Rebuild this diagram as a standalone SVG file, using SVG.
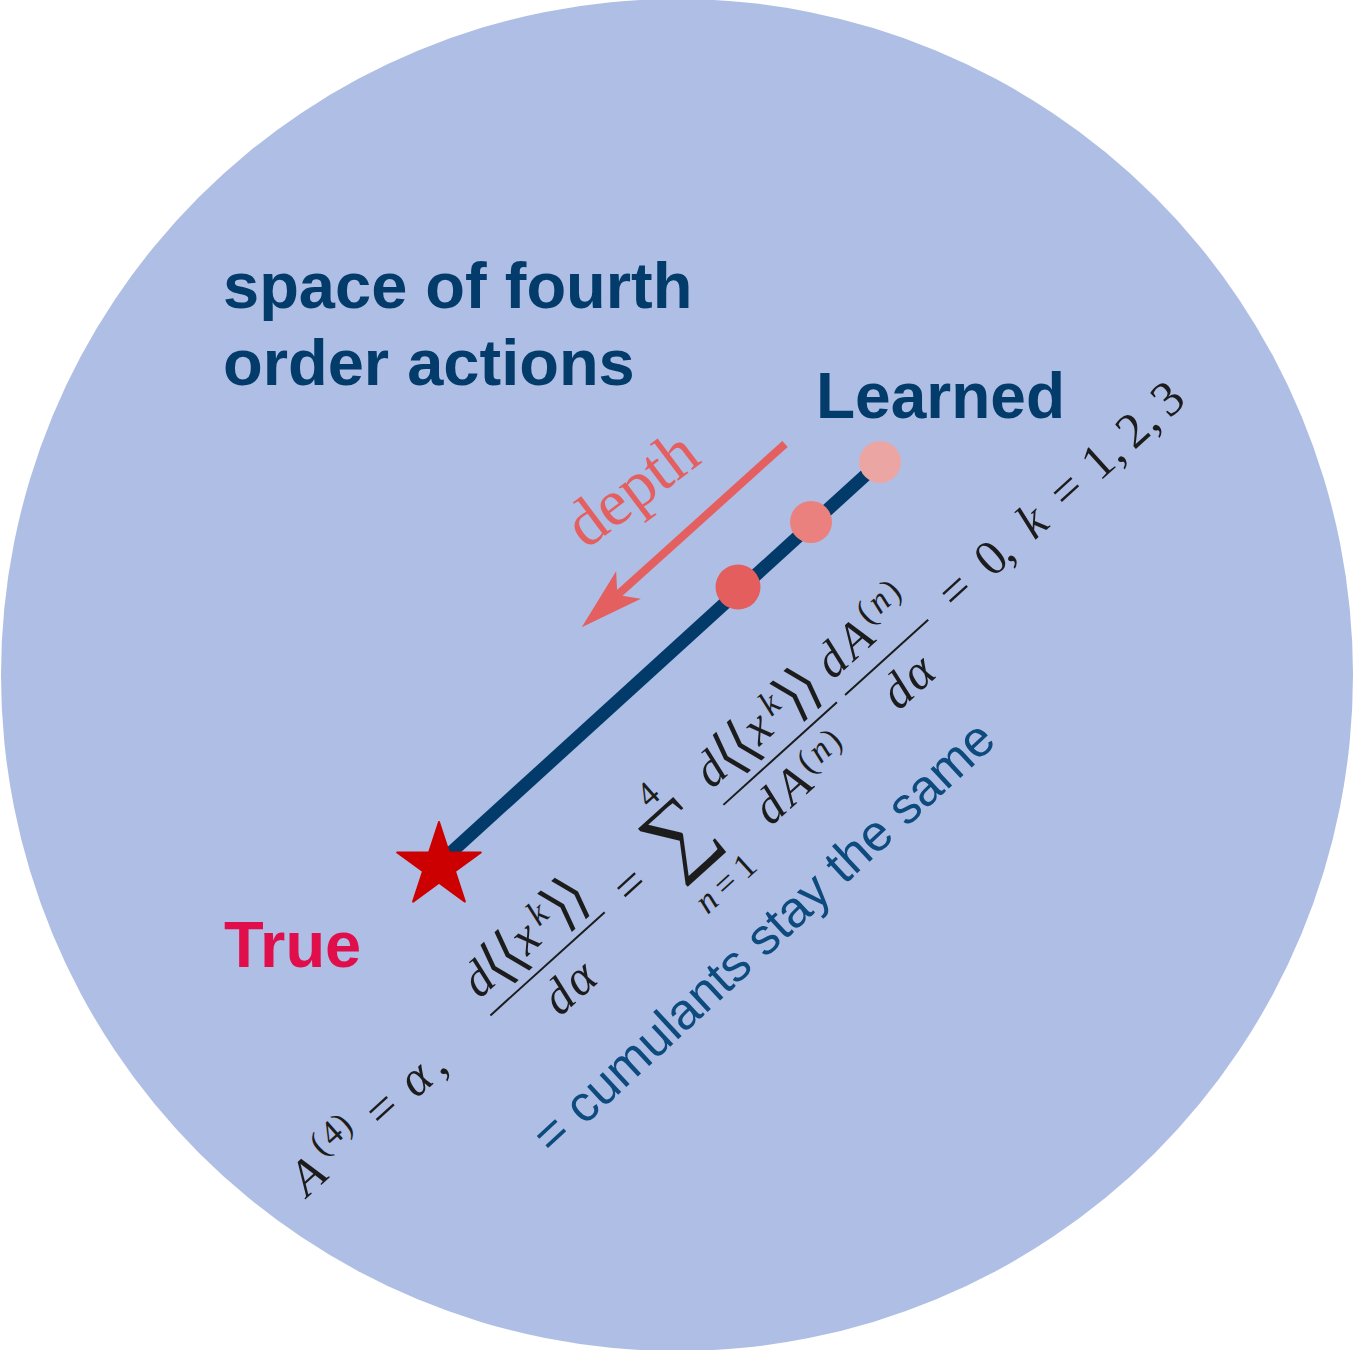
<svg xmlns="http://www.w3.org/2000/svg" width="1354" height="1350" viewBox="0 0 1354 1350">
<defs>
<style>
.lbl{font-family:"Liberation Sans",Arial,sans-serif;font-weight:bold}
.m{font-family:"Liberation Serif","DejaVu Sans",serif;fill:#1c1c1c;font-size:50px;text-anchor:middle}
.mi{font-style:italic}
.s{font-size:35px}
.br{font-size:58px}
.big{font-size:88px}
.bar{stroke:#1c1c1c;stroke-width:2}
.dot{stroke:none}
</style>
<marker id="head" markerUnits="userSpaceOnUse" viewBox="-20 -20 66 40" refX="0" refY="0" markerWidth="66" markerHeight="40" orient="auto">
<path d="M44,0 L-19,-18.5 L-4,0 L-19,18.5 Z" fill="#E45F5F"/>
</marker>
</defs>
<rect width="1354" height="1350" fill="#ffffff"/>
<circle id="space" cx="677" cy="675" r="676" fill="#AFBEE4"/>

<g id="connectors">
<line id="path" x1="445" y1="858" x2="880" y2="462" stroke="#023B6A" stroke-width="13"/>
<line id="depth-arrow" x1="785" y1="444" x2="614.4" y2="597.8" stroke="#E45F5F" stroke-width="8" marker-end="url(#head)"/>
</g>

<g id="dot-top"><circle class="dot" cx="880" cy="462" r="21" fill="#EBA6A4"/></g>
<g id="dot-mid"><circle class="dot" cx="811" cy="522" r="21" fill="#EB817F"/></g>
<g id="dot-low"><circle class="dot" cx="738" cy="587" r="22.5" fill="#E45E5E"/></g>

<g id="star">
<polygon points="439,822 448.9,852.4 480.8,852.4 455,871.2 464.9,901.6 439,882.8 413.1,901.6 423,871.2 397.2,852.4 429.1,852.4" fill="#CC0000" stroke="#CC0000" stroke-width="2" stroke-linejoin="round"/>
</g>

<g id="title">
<text class="lbl" x="223" y="308" font-size="65" fill="#033C6B">space of fourth</text>
<text class="lbl" x="223" y="385" font-size="65" fill="#033C6B">order actions</text>
</g>
<g id="learned"><text class="lbl" x="816" y="418" font-size="64" fill="#033C6B">Learned</text></g>
<g id="true"><text class="lbl" x="224" y="967" font-size="65" fill="#E00E4A">True</text></g>

<g id="depth-label"><text x="586" y="550" transform="rotate(-37 586 550)" font-family="'Liberation Serif',serif" font-size="66" fill="#E45F5F">depth</text></g>

<g id="cumulants"><text x="552" y="1156" transform="rotate(-42.8 552 1156)" font-family="'Liberation Sans',Arial,sans-serif" font-size="51" fill="#0D4A7E">= cumulants stay the same</text></g>

<g id="formula" transform="translate(385,1112) rotate(-42.1)">
<text class="m mi" x="-100" y="11.5">A</text>
<text class="m s" y="-9"><tspan x="-71">(</tspan><tspan x="-54">4</tspan><tspan x="-39">)</tspan></text>
<text class="m" x="0" y="12">=</text>
<text class="m mi" x="45" y="11.5">α</text>
<text class="m" x="71" y="11.5">,</text>

<line class="bar" x1="143" y1="-1" x2="297" y2="-1"/>
<text class="m" y="-20"><tspan class="mi" x="158">d</tspan><tspan class="br" x="181" y="-16">⟨</tspan><tspan class="br" x="200" y="-16">⟨</tspan><tspan class="mi" x="221" y="-20">x</tspan><tspan class="br" x="266" y="-16">⟩</tspan><tspan class="br" x="285" y="-16">⟩</tspan></text>
<text class="m mi s" x="246" y="-34">k</text>
<text class="m mi" y="47"><tspan x="206">d</tspan><tspan x="234">α</tspan></text>

<text class="m" x="334" y="12">=</text>
<text class="m big" x="403" y="17">∑</text>
<text class="m s" x="408" y="-48">4</text>
<text class="m s" y="70"><tspan class="mi" x="380">n</tspan><tspan x="406">=</tspan><tspan x="432">1</tspan></text>

<line class="bar" x1="457" y1="-1" x2="610" y2="-1"/>
<text class="m" y="-20"><tspan class="mi" x="471">d</tspan><tspan class="br" x="494" y="-16">⟨</tspan><tspan class="br" x="513" y="-16">⟨</tspan><tspan class="mi" x="534" y="-20">x</tspan><tspan class="br" x="579" y="-16">⟩</tspan><tspan class="br" x="598" y="-16">⟩</tspan></text>
<text class="m mi s" x="559" y="-34">k</text>
<text class="m mi" y="47"><tspan x="490">d</tspan><tspan x="522">A</tspan></text>
<text class="m s" y="34"><tspan x="547">(</tspan><tspan class="mi" x="565">n</tspan><tspan x="582">)</tspan></text>

<line class="bar" x1="621" y1="-1" x2="733" y2="-1"/>
<text class="m mi" y="-20"><tspan x="634">d</tspan><tspan x="666">A</tspan></text>
<text class="m s" y="-37"><tspan x="691">(</tspan><tspan class="mi" x="709">n</tspan><tspan x="726">)</tspan></text>
<text class="m mi" y="47"><tspan x="662">d</tspan><tspan x="690">α</tspan></text>

<text class="m" y="11.5"><tspan x="773">=</tspan><tspan x="821">0</tspan><tspan x="836">,</tspan><tspan class="mi" x="876">k</tspan><tspan x="923">=</tspan><tspan x="965">1</tspan><tspan x="984">,</tspan><tspan x="1012">2</tspan><tspan x="1031">,</tspan><tspan x="1059">3</tspan></text>
</g>
</svg>
